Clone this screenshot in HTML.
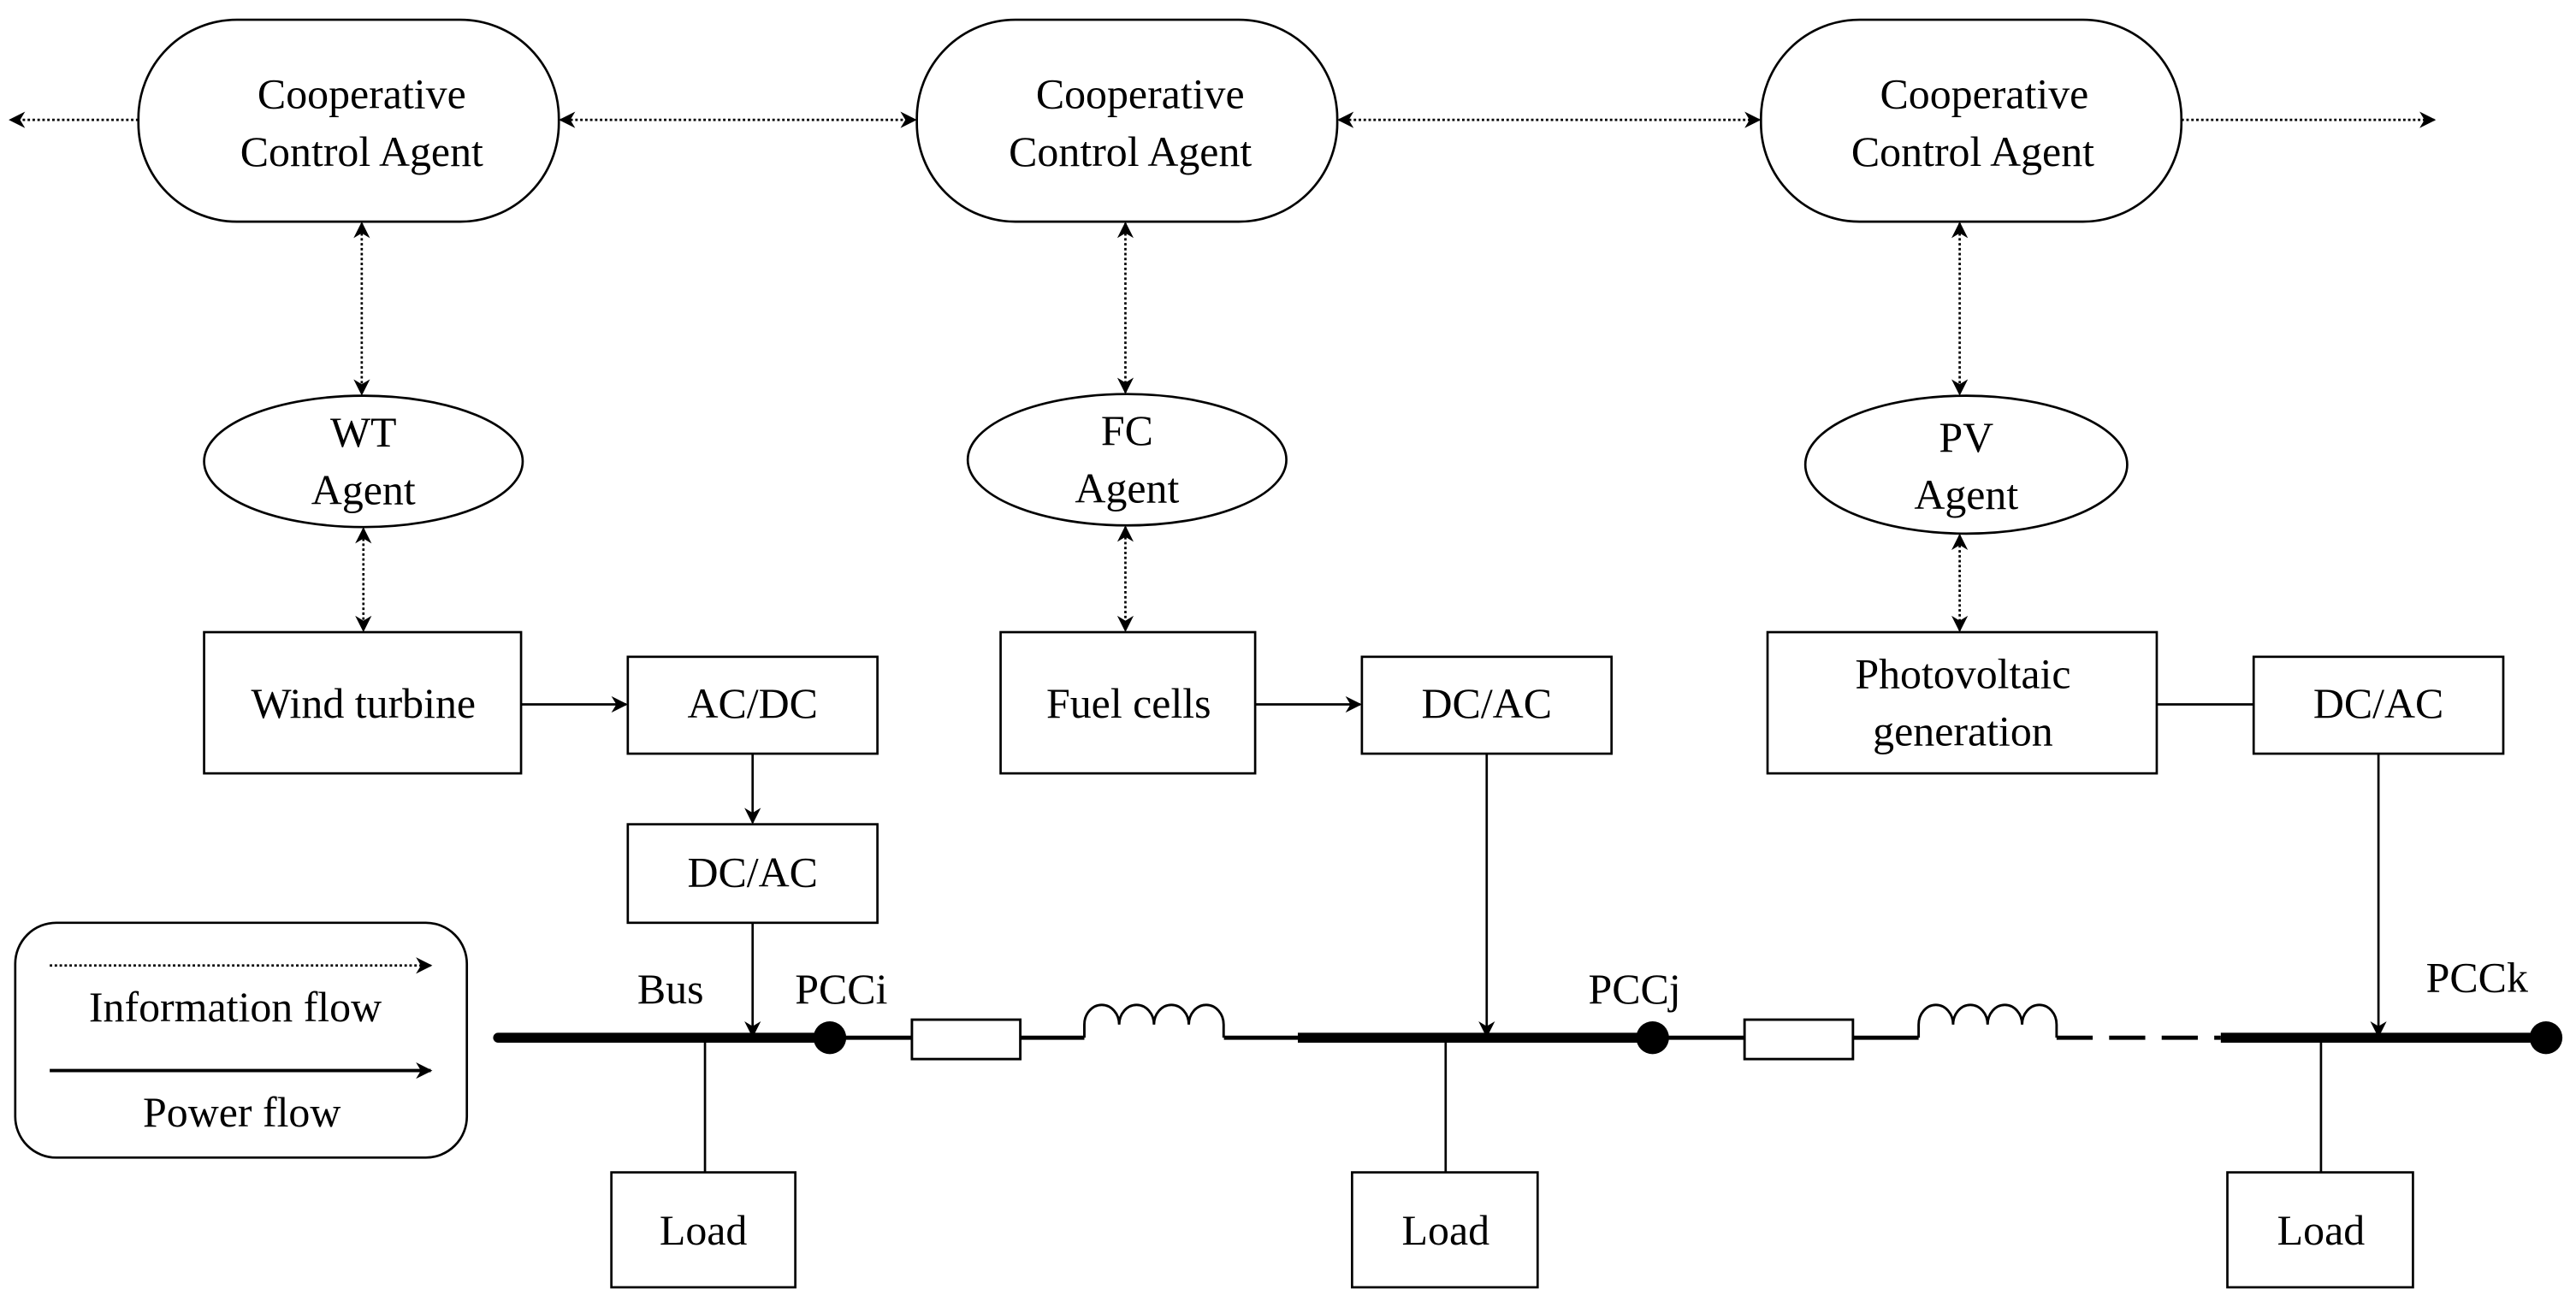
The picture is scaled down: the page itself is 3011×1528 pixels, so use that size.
<!DOCTYPE html>
<html><head><meta charset="utf-8"><style>
html,body{margin:0;padding:0;background:#fff}
svg{display:block}
svg text{font-family:'Liberation Serif','DejaVu Serif',serif}
</style></head><body>
<svg width="3011" height="1528" viewBox="0 0 1568 796" xmlns="http://www.w3.org/2000/svg">
<defs>
<marker id="a" markerWidth="10" markerHeight="10" refX="9" refY="5" orient="auto-start-reverse" markerUnits="userSpaceOnUse">
<path d="M0,0 L10,5 L0,10 L3,5 z" fill="#000"/></marker>
</defs>
<g fill="none" stroke="#000" stroke-width="1.4">
<rect x="84" y="12" width="256" height="123" rx="60" ry="60"/>
<rect x="558" y="12" width="256" height="123" rx="60" ry="60"/>
<rect x="1072" y="12" width="256" height="123" rx="60" ry="60"/>
<ellipse cx="221" cy="281" rx="97" ry="40"/>
<ellipse cx="686" cy="280" rx="97" ry="40"/>
<ellipse cx="1197" cy="283" rx="98" ry="42"/>
<rect x="124" y="385" width="193" height="86"/>
<rect x="382" y="400" width="152" height="59"/>
<rect x="382" y="502" width="152" height="60"/>
<rect x="609" y="385" width="155" height="86"/>
<rect x="829" y="400" width="152" height="59"/>
<rect x="1076" y="385" width="237" height="86"/>
<rect x="1372" y="400" width="152" height="59"/>
<rect x="372" y="714" width="112" height="70"/>
<rect x="823" y="714" width="113" height="70"/>
<rect x="1356" y="714" width="113" height="70"/>
<rect x="9" y="562" width="275" height="143" rx="25" ry="25"/>
</g>
<g fill="none" stroke="#000" stroke-width="1.4" stroke-dasharray="1.5,1.5">
<line x1="84" y1="73" x2="6" y2="73" marker-end="url(#a)"/>
<line x1="341" y1="73" x2="557" y2="73" marker-start="url(#a)" marker-end="url(#a)"/>
<line x1="815" y1="73" x2="1071" y2="73" marker-start="url(#a)" marker-end="url(#a)"/>
<line x1="1328" y1="73" x2="1482" y2="73" marker-end="url(#a)"/>
<line x1="220" y1="136" x2="220" y2="240" marker-start="url(#a)" marker-end="url(#a)"/>
<line x1="685" y1="136" x2="685" y2="239" marker-start="url(#a)" marker-end="url(#a)"/>
<line x1="1193" y1="136" x2="1193" y2="240" marker-start="url(#a)" marker-end="url(#a)"/>
<line x1="221" y1="322" x2="221" y2="384" marker-start="url(#a)" marker-end="url(#a)"/>
<line x1="685" y1="321" x2="685" y2="384" marker-start="url(#a)" marker-end="url(#a)"/>
<line x1="1193" y1="326" x2="1193" y2="384" marker-start="url(#a)" marker-end="url(#a)"/>
<line x1="30" y1="588" x2="262" y2="588" marker-end="url(#a)"/>
</g>
<g fill="none" stroke="#000" stroke-width="1.4">
<line x1="317" y1="429" x2="381" y2="429" marker-end="url(#a)"/>
<line x1="764" y1="429" x2="828" y2="429" marker-end="url(#a)"/>
<line x1="1313" y1="429" x2="1372" y2="429"/>
<line x1="458" y1="459" x2="458" y2="501" marker-end="url(#a)"/>
<line x1="458" y1="562" x2="458" y2="631" marker-end="url(#a)"/>
<line x1="905" y1="459" x2="905" y2="631" marker-end="url(#a)"/>
<line x1="1448" y1="459" x2="1448" y2="631" marker-end="url(#a)"/>
<line x1="429" y1="632" x2="429" y2="714"/>
<line x1="880" y1="632" x2="880" y2="714"/>
<line x1="1413" y1="632" x2="1413" y2="714"/>
<line x1="30" y1="652" x2="262" y2="652" stroke-width="2" marker-end="url(#a)"/>
</g>
<g stroke="#000" fill="none">
<line x1="303" y1="632" x2="505" y2="632" stroke-width="6" stroke-linecap="round"/>
<line x1="790" y1="632" x2="1006" y2="632" stroke-width="6"/>
<line x1="1352" y1="632" x2="1550" y2="632" stroke-width="6"/>
<g stroke-width="2.5">
<line x1="505" y1="632" x2="555" y2="632"/>
<line x1="621" y1="632" x2="660" y2="632"/>
<line x1="745" y1="632" x2="790" y2="632"/>
<line x1="1006" y1="632" x2="1062" y2="632"/>
<line x1="1128" y1="632" x2="1168" y2="632"/>
<line x1="1252" y1="632" x2="1352" y2="632" stroke-dasharray="22,10"/>
</g>
<g stroke-width="1.5">
<rect x="555" y="621" width="66" height="24"/>
<rect x="1062" y="621" width="66" height="24"/>
<path d="M660,632 V624 a10.6,12 0 0 1 21.2,0 a10.6,12 0 0 1 21.2,0 a10.6,12 0 0 1 21.2,0 a10.6,12 0 0 1 21.2,0 V632"/>
<path d="M1168,632 V624 a10.5,12 0 0 1 21,0 a10.5,12 0 0 1 21,0 a10.5,12 0 0 1 21,0 a10.5,12 0 0 1 21,0 V632"/>
</g>
</g>
<circle cx="505" cy="632" r="10" fill="#000"/>
<circle cx="1006" cy="632" r="10" fill="#000"/>
<circle cx="1550" cy="632" r="10" fill="#000"/>
<g font-size="26" fill="#000" text-anchor="middle">
<text x="220" y="66">Cooperative</text><text x="220" y="101">Control Agent</text>
<text x="694" y="66">Cooperative</text><text x="688" y="101">Control Agent</text>
<text x="1208" y="66">Cooperative</text><text x="1201" y="101">Control Agent</text>
<text x="221" y="272">WT</text><text x="221" y="307">Agent</text>
<text x="686" y="271">FC</text><text x="686" y="306">Agent</text>
<text x="1197" y="275">PV</text><text x="1197" y="310">Agent</text>
<text x="221" y="437">Wind turbine</text>
<text x="458" y="437">AC/DC</text>
<text x="458" y="540">DC/AC</text>
<text x="687" y="437">Fuel cells</text>
<text x="905" y="437">DC/AC</text>
<text x="1195" y="419">Photovoltaic</text><text x="1195" y="454">generation</text>
<text x="1448" y="437">DC/AC</text>
<text x="428" y="758">Load</text>
<text x="880" y="758">Load</text>
<text x="1413" y="758">Load</text>
<text x="408" y="611">Bus</text>
<text x="512" y="611">PCCi</text>
<text x="995" y="611">PCCj</text>
<text x="1508" y="604">PCCk</text>
<text x="143" y="622">Information flow</text>
<text x="147" y="686">Power flow</text>
</g>
</svg>
</body></html>
